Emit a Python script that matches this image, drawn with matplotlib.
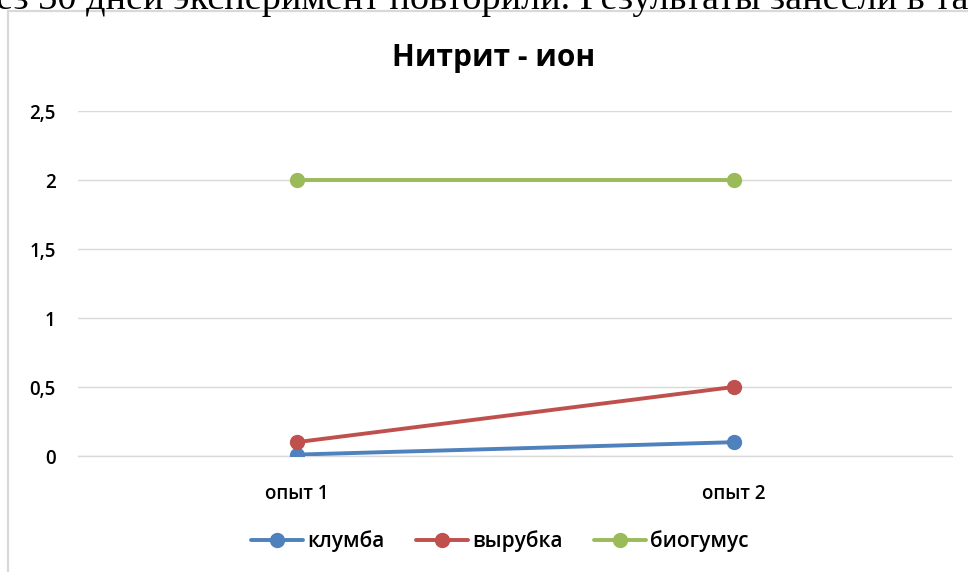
import matplotlib
matplotlib.use('Agg')
import matplotlib.pyplot as plt
from matplotlib.patches import Rectangle
from matplotlib.ticker import FuncFormatter

categories = ['опыт 1', 'опыт 2']
klumba = [0.01, 0.1]
vyrubka = [0.1, 0.5]
biogumus = [2, 2]
series_names = ['клумба', 'вырубка', 'биогумус']
colors = ['#4f81bd', '#c0504d', '#9bbb59']

plt.rcParams['font.family'] = ['Open Sans', 'DejaVu Sans']

W, H = 968, 572
fig = plt.figure(figsize=(W / 100, H / 100), dpi=100)

# strip of document text above the chart frame
fig.text(-0.004, 1 - 9 / H, 'ез 30 дней эксперимент повторили. Результаты занесли в таб',
         fontsize=27.5, family=['Liberation Serif'], ha='left', va='baseline')

# chart frame (runs off the right and bottom edges)
fig.patches.append(Rectangle((8 / W, -0.1), 1.2, 1 - 11 / H + 0.1,
                             transform=fig.transFigure, fill=False,
                             edgecolor='#d9d9d9', linewidth=1.6))

ax = fig.add_axes([78 / W, 116 / H, (952 - 78) / W, 345 / H])
x = list(range(len(categories)))
for vals, name, c in zip([klumba, vyrubka, biogumus], series_names, colors):
    ax.plot(x, vals, color=c, linewidth=2.8, marker='o', markersize=10,
            label=name, solid_capstyle='round', zorder=3)

ax.set_xlim(-0.5, 1.5)
ax.set_ylim(0, 2.5)
ax.set_yticks([0, 0.5, 1, 1.5, 2, 2.5])
ax.yaxis.set_major_formatter(FuncFormatter(lambda v, p: ('%g' % v).replace('.', ',')))
ax.set_xticks(x)
ax.set_xticklabels(categories)
ax.grid(axis='y', color='#d9d9d9', linewidth=1)
ax.axhline(0, color='#d9d9d9', linewidth=1, clip_on=False, zorder=1)
ax.set_axisbelow(True)
for s in ax.spines.values():
    s.set_visible(False)
ax.tick_params(axis='both', length=0, labelsize=13.5)
ax.tick_params(axis='y', pad=16)
ax.tick_params(axis='x', pad=20)
for lab in ax.get_xticklabels() + ax.get_yticklabels():
    lab.set_fontweight('semibold')

fig.text(494 / W, 1 - 58 / H, 'Нитрит - ион', fontsize=21.5, fontweight='bold',
         ha='center', va='center')

leg = fig.legend(loc='center', bbox_to_anchor=(500 / W, 1 - 541 / H), ncol=3, frameon=False,
                 fontsize=15, handlelength=2.5, columnspacing=1.5, handletextpad=0.2)
for t in leg.get_texts():
    t.set_fontweight('semibold')

fig.savefig('out.png', dpi=100, facecolor='white')
